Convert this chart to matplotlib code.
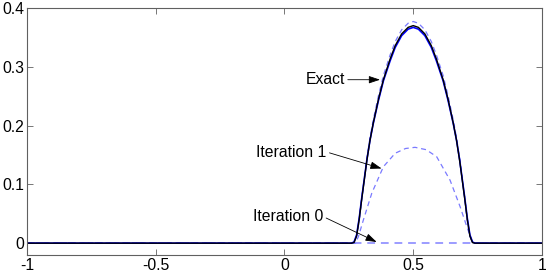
import numpy as np
import matplotlib
matplotlib.use('Agg')
import matplotlib.pyplot as plt

plt.rcParams['font.family'] = ['Liberation Sans', 'DejaVu Sans']

# values (the bump is symmetric about x = 0.5)
x_half = [-1.0, 0.26, 0.27, 0.28, 0.29, 0.30, 0.32, 0.332, 0.345, 0.365,
          0.384, 0.41, 0.43, 0.455, 0.48, 0.50]
exact_half = [0.0, 0.0, 0.001, 0.012, 0.040, 0.075, 0.141, 0.175, 0.205,
              0.245, 0.278, 0.313, 0.336, 0.356, 0.367, 0.370]
final_half = [0.0, 0.0, 0.002, 0.014, 0.042, 0.077, 0.142, 0.175, 0.204,
              0.243, 0.276, 0.310, 0.333, 0.353, 0.364, 0.367]
iter2_half = [0.0, 0.0, 0.001, 0.012, 0.037, 0.077, 0.144, 0.179, 0.210,
              0.251, 0.285, 0.320, 0.343, 0.363, 0.374, 0.377]

# iteration 1 is a little skewed to the right
iter1_x = [-1.0, 0.275, 0.287, 0.306, 0.339, 0.384, 0.43, 0.47, 0.507,
           0.55, 0.591, 0.643, 0.682, 0.708, 0.727, 0.735, 1.0]
iter1_y = [0.0, 0.0, 0.011, 0.039, 0.085, 0.130, 0.153, 0.161, 0.163,
           0.159, 0.147, 0.107, 0.062, 0.028, 0.005, 0.0, 0.0]

iter0_x = [-1.0, 1.0]
iter0_y = [0.0, 0.0]


def mirror(xh, yh):
    xh = np.array(xh)
    yh = np.array(yh)
    x = np.concatenate([xh, 1.0 - xh[-2::-1]])
    y = np.concatenate([yh, yh[-2::-1]])
    return x, y


x_ex, y_ex = mirror(x_half, exact_half)
x_fn, y_fn = mirror(x_half, final_half)
x_i2, y_i2 = mirror(x_half, iter2_half)

fig = plt.figure(figsize=(5.5, 2.75), dpi=100)
ax = fig.add_axes([0.049, 0.073, 0.9365, 0.898])

dash_col = '#7a7aff'
ax.plot(iter0_x, iter0_y, '--', color='#9c9cff', lw=1.4, dashes=(4, 3))
ax.plot(iter1_x, iter1_y, '--', color=dash_col, lw=0.9, dashes=(4, 3))
ax.plot(x_i2, y_i2, '--', color=dash_col, lw=0.9, dashes=(4, 3))
ax.plot(x_fn, y_fn, '-', color='#0000ff', lw=1.2)
ax.plot(x_ex, y_ex, '-', color='black', lw=1.0)

ax.set_xlim(-1, 1)
ax.set_ylim(-0.02, 0.4)
ax.set_xticks([-1, -0.5, 0, 0.5, 1])
ax.set_xticklabels(['-1', '-0.5', '0', '0.5', '1'])
ax.set_yticks([0, 0.1, 0.2, 0.3, 0.4])
ax.set_yticklabels(['0', '0.1', '0.2', '0.3', '0.4'])
ax.tick_params(direction='in', top=True, right=True, length=4, width=0.6,
               color='#606060', labelsize=11.3, pad=2)
for s in ax.spines.values():
    s.set_color('#606060')
    s.set_linewidth(0.8)

arrow = dict(arrowstyle='-|>,head_length=0.6,head_width=0.2', color='black',
             lw=0.6, shrinkA=0, shrinkB=0, relpos=(1.0, 0.5))
ax.annotate('Exact', xy=(0.371, 0.278), xytext=(0.235, 0.278),
            ha='right', va='center', fontsize=11.3, arrowprops=arrow)
ax.annotate('Iteration 1', xy=(0.377, 0.127), xytext=(0.164, 0.155),
            ha='right', va='center', fontsize=11.3, arrowprops=arrow)
ax.annotate('Iteration 0', xy=(0.358, 0.002), xytext=(0.151, 0.045),
            ha='right', va='center', fontsize=11.3, arrowprops=arrow)

fig.savefig('out.png', dpi=100)
